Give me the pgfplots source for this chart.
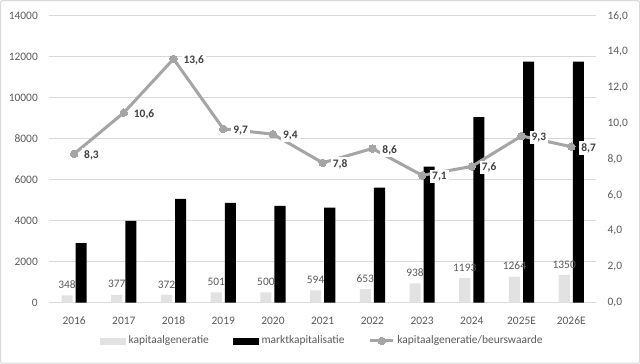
\documentclass[border=0pt]{standalone}
\usepackage{pgfplots}
\pgfplotsset{compat=1.18}
\usepackage{fontspec}
\setmainfont{Carlito}
\definecolor{tickgray}{RGB}{89,89,89}
\definecolor{gridgray}{RGB}{217,217,217}
\definecolor{bargray}{RGB}{226,226,226}
\definecolor{linegray}{RGB}{165,165,165}
\definecolor{labgray}{RGB}{64,64,64}
\begin{document}
\begin{tikzpicture}
\draw[gridgray, line width=0.75pt, rounded corners=1pt] (2pt,1.5pt) rectangle (477pt,271pt);
\begin{axis}[
  at={(38.25pt,46.5pt)}, anchor=south west, scale only axis,
  width=406.5pt, height=213pt,
  xmin=-0.5, xmax=10.5, ymin=0, ymax=14000,
  ytick={0,2000,...,14000},
  scaled y ticks=false,
  xtick={0,...,10},
  xticklabels={2016,2017,2018,2019,2020,2021,2022,2023,2024,2025E,2026E},
  axis line style={draw=none},
  major tick length=0pt,
  ymajorgrids, grid style={gridgray, line width=0.75pt},
  /pgf/number format/1000 sep={},
  /pgf/number format/assume math mode=true,
  ticklabel style={font=\fontsize{8.5}{10}\selectfont, text=tickgray},
  yticklabel style={xshift=-5pt},
  xticklabel style={yshift=-7pt},
  ybar=2.25pt, bar width=8.25pt,
]
\addplot[fill=bargray, draw=none, nodes near coords,
  every node near coord/.append style={font=\fontsize{8.5}{10}\selectfont, text=tickgray, yshift=1.5pt}]
  coordinates {(0,348) (1,377) (2,372) (3,501) (4,500) (5,594) (6,653) (7,938) (8,1193) (9,1264) (10,1350)};
\addplot[fill=black, draw=none]
  coordinates {(0,2900) (1,3990) (2,5060) (3,4870) (4,4720) (5,4630) (6,5610) (7,6640) (8,9060) (9,11770) (10,11770)};
\end{axis}
\begin{axis}[
  at={(38.25pt,46.5pt)}, anchor=south west, scale only axis,
  width=406.5pt, height=213pt,
  xmin=-0.5, xmax=10.5, ymin=0, ymax=16,
  ytick={0,2,...,16},
  axis y line*=right, axis x line=none,
  axis line style={draw=none},
  major tick length=0pt,
  /pgf/number format/.cd, fixed, fixed zerofill, precision=1, use comma, assume math mode=true,
  /pgfplots/.cd,
  ticklabel style={font=\fontsize{8.5}{10}\selectfont, text=tickgray},
  yticklabel style={xshift=5pt},
  legend style={at={(0.5,-0.134)}, anchor=center, draw=none, fill=none,
    legend columns=3, font=\fontsize{8.5}{10}\selectfont, text=tickgray,
    /tikz/every even column/.append style={column sep=16pt}},
]
\addlegendimage{legend image code/.code={\fill[bargray] (0pt,-2.25pt) rectangle (18.75pt,2.25pt);}}
\addlegendimage{legend image code/.code={\fill[black] (0pt,-2.25pt) rectangle (18.75pt,2.25pt);}}
\addplot[linegray, line width=2.25pt, mark=*, mark size=2.8pt,
  mark options={fill=linegray, draw=linegray, line width=0pt},
  nodes near coords,
  every node near coord/.append style={anchor=west, fill=white, text=labgray,
    font=\bfseries\fontsize{8.5}{10}\selectfont, inner sep=1.5pt, xshift=6pt, yshift=-1pt}]
  coordinates {(0,8.3) (1,10.6) (2,13.6) (3,9.7) (4,9.4) (5,7.8) (6,8.6) (7,7.1) (8,7.6) (9,9.3) (10,8.7)};
\legend{kapitaalgeneratie, marktkapitalisatie, kapitaalgeneratie/beurswaarde}
\end{axis}
\end{tikzpicture}
\end{document}
